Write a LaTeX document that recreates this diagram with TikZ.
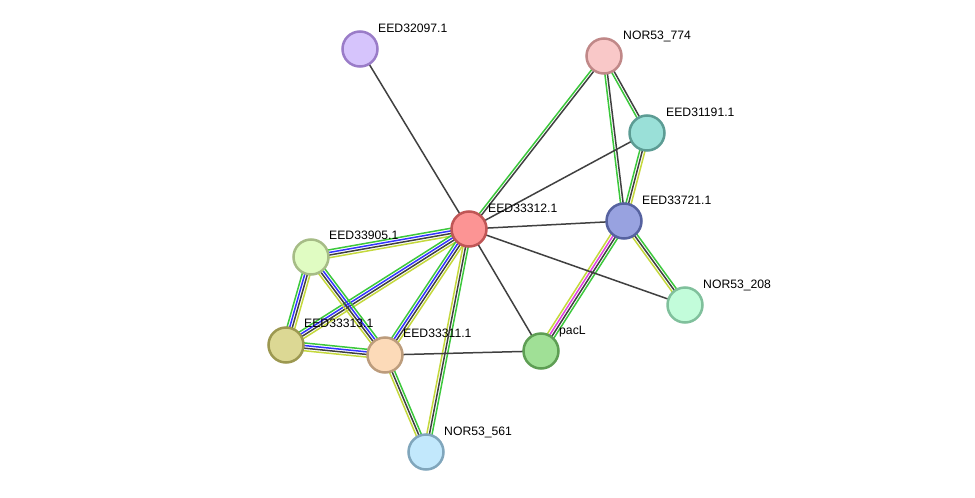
\documentclass[tikz,border=0pt]{standalone}
\usepackage{fontspec}
\setmainfont{Liberation Sans}
\usetikzlibrary{calc,backgrounds}
\definecolor{eg}{HTML}{3CC83C}
\definecolor{eb}{HTML}{3434FF}
\definecolor{ek}{HTML}{404040}
\definecolor{ey}{HTML}{C4D83C}
\definecolor{em}{HTML}{E040E0}
\tikzset{
  prot/.style={circle, minimum size=35pt, inner sep=0pt, line width=2.5pt},
  lab/.style={anchor=base west, inner sep=0pt, font=\fontsize{12.2}{14}\selectfont},
}
\newcommand\stredge[4]{%
  \foreach \c [count=\i] in {#4} {%
    \pgfmathsetmacro\o{(\i-(#3+1)/2)*2.6}%
    \draw[\c, line width=1.5pt] ($(#1)!\o pt!90:(#2)$) -- ($(#2)!\o pt!-90:(#1)$);
  }%
}
\newcommand\prot[5]{%
  \definecolor{fill#1}{HTML}{#4}\definecolor{bord#1}{HTML}{#5}%
  \node[prot, fill=fill#1, draw=bord#1] (#1) at (#2,#3) {};
}
\begin{document}
\begin{tikzpicture}[x=1pt,y=-1pt]
\useasboundingbox (0,0) rectangle (975,498);
\prot{n32097}{360}{49}{D6C4FC}{9A7CC8}
\prot{n774}{604}{56}{F9C8C8}{C08888}
\prot{n31191}{647}{133}{9AE0D8}{5C9C94}
\prot{n33721}{624}{221}{98A2E0}{5662A0}
\prot{n33312}{469}{229}{FC9494}{C05656}
\prot{n33905}{311}{257}{E0FCC2}{A6BC86}
\prot{n208}{685}{305}{C2FCDA}{80C09C}
\prot{n33313}{286}{345}{DCD894}{9C9850}
\prot{n33311}{385}{355}{FCDAB8}{BC9C7C}
\prot{pacL}{541}{351}{A0E096}{5E9E54}
\prot{n561}{426}{452}{C2E8FC}{80A6BC}
\begin{pgfonlayer}{background}
\stredge{n32097}{n33312}{1}{ek}
\stredge{n774}{n33312}{2}{eg,ek}
\stredge{n774}{n31191}{2}{eg,ek}
\stredge{n774}{n33721}{2}{eg,ek}
\stredge{n31191}{n33312}{1}{ek}
\stredge{n31191}{n33721}{3}{eg,ek,ey}
\stredge{n33721}{n33312}{1}{ek}
\stredge{n33721}{n208}{3}{ey,ek,eg}
\stredge{n33721}{pacL}{4}{ey,em,ek,eg}
\stredge{n33312}{n208}{1}{ek}
\stredge{n33312}{pacL}{1}{ek}
\stredge{n33312}{n33905}{4}{eg,eb,ek,ey}
\stredge{n33312}{n33313}{4}{eg,eb,ek,ey}
\stredge{n33312}{n33311}{4}{eg,eb,ek,ey}
\stredge{n33312}{n561}{3}{ey,ek,eg}
\stredge{n33905}{n33313}{4}{eg,eb,ek,ey}
\stredge{n33905}{n33311}{4}{ey,ek,eb,eg}
\stredge{n33313}{n33311}{4}{ey,ek,eb,eg}
\stredge{n33311}{pacL}{1}{ek}
\stredge{n33311}{n561}{3}{ey,ek,eg}
\end{pgfonlayer}
\node[lab] (l32097) at ($(n32097)+(18,-17)$) {EED32097.1};
\node[lab] (l774) at ($(n774)+(19,-17)$) {NOR53\_774};
\node[lab] (l31191) at ($(n31191)+(19,-17)$) {EED31191.1};
\node[lab] (l33721) at ($(n33721)+(18,-17)$) {EED33721.1};
\node[lab] (l33312) at ($(n33312)+(19,-17)$) {EED33312.1};
\node[lab] (l33905) at ($(n33905)+(18,-18)$) {EED33905.1};
\node[lab] (l208) at ($(n208)+(18,-17)$) {NOR53\_208};
\node[lab] (l33313) at ($(n33313)+(18,-18)$) {EED33313.1};
\node[lab] (l33311) at ($(n33311)+(18,-18)$) {EED33311.1};
\node[lab] (lpacL) at ($(pacL)+(18,-17)$) {pacL};
\node[lab] (l561) at ($(n561)+(18,-17)$) {NOR53\_561};
\end{tikzpicture}
\end{document}
